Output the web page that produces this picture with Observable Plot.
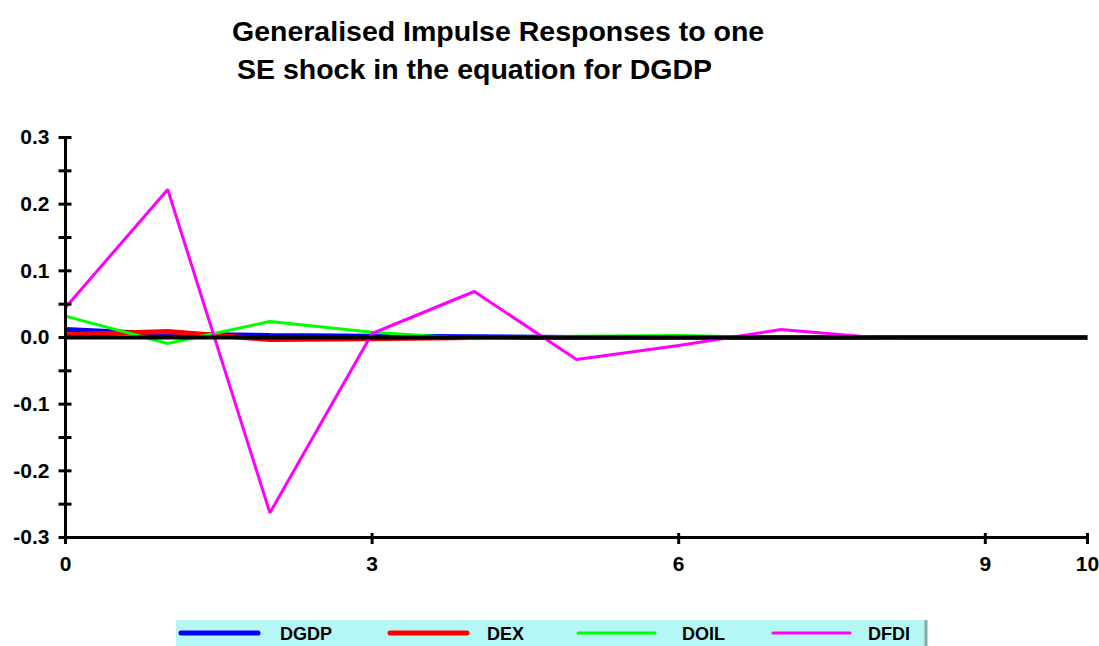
<!DOCTYPE html>
<html>
<head>
<meta charset="utf-8">
<script src="https://cdn.jsdelivr.net/npm/d3@7"></script>
<script src="https://cdn.jsdelivr.net/npm/@observablehq/plot@0.6"></script>
<style>
  html, body { margin: 0; padding: 0; background: #ffffff; }
  #wrap { position: relative; width: 1099px; height: 646px; overflow: hidden; background: #fff;
          font-family: "Liberation Sans", Arial, sans-serif; font-weight: bold; color: #000; }
  .title { position: absolute; font-size: 28.5px; line-height: 32px; white-space: pre; }
  #chart { position: absolute; left: 0; top: 100px; }
  #chart svg text { font-size: 21px; font-weight: bold; }
  #legend { position: absolute; left: 0; top: 0; }
</style>
</head>
<body>
<div id="wrap">
  <div class="title" style="left:232px; top:15px;">Generalised Impulse Responses to one</div>
  <div class="title" style="left:237px; top:53px;">SE shock in the equation for DGDP</div>
  <div id="chart"></div>
  <div id="legend"></div>
</div>
<script>
// ---- data ----
const periods = [0, 1, 2, 3, 4, 5, 6, 7, 8, 9, 10];
const seriesNames = ["DGDP", "DEX", "DOIL", "DFDI"];
const seriesColors = ["#0000ff", "#ff0000", "#00ff00", "#ff00ff"];
const seriesWidths = [5, 5, 3, 3];
const DGDP = [0.012, 0.005, 0.003, 0.002, 0.001, 0.000, 0.000, 0.000, 0.000, 0.000, 0.000];
const DEX  = [0.004, 0.009, -0.003, -0.002, 0.000, 0.000, 0.000, 0.000, 0.000, 0.000, 0.000];
const DOIL = [0.032, -0.009, 0.024, 0.008, -0.002, 0.002, 0.003, 0.000, 0.000, 0.000, 0.000];
const DFDI = [0.045, 0.222, -0.263, 0.006, 0.069, -0.033, -0.012, 0.012, -0.001, 0.000, 0.000];
const seriesValues = [DGDP, DEX, DOIL, DFDI];

const xTickValues = [0, 3, 6, 9, 10];
const xTickLabels = ["0", "3", "6", "9", "10"];
const yTickValues = [0.3, 0.2, 0.1, 0.0, -0.1, -0.2, -0.3];
const yTickLabels = ["0.3", "0.2", "0.1", "0.0", "-0.1", "-0.2", "-0.3"];
const yMinorTicks = [0.3, 0.25, 0.2, 0.15, 0.1, 0.05, 0.0, -0.05, -0.1, -0.15, -0.2, -0.25, -0.3];

const rows = [];
seriesNames.forEach((s, si) => {
  periods.forEach((p, i) => rows.push({ series: s, period: p, value: seriesValues[si][i] }));
});

const lineMarks = seriesNames.map((s, si) =>
  Plot.line(rows.filter(r => r.series === s), {
    x: "period", y: "value", stroke: seriesColors[si], strokeWidth: seriesWidths[si],
    strokeLinejoin: "miter", strokeLinecap: "butt"
  })
);

const chart = Plot.plot({
  width: 1099,
  height: 500,
  marginLeft: 65,
  marginRight: 12,
  marginTop: 37,
  marginBottom: 63,
  x: { domain: [0, 10], label: null },
  y: { domain: [-0.3, 0.3], label: null },
  style: {
    fontFamily: "'Liberation Sans', Arial, sans-serif",
    fontSize: "21px",
    fontWeight: "bold",
    color: "#000",
    background: "transparent",
    overflow: "visible"
  },
  marks: [
    ...lineMarks,
    Plot.ruleX([0], { stroke: "#000", strokeWidth: 3 }),
    Plot.ruleY([-0.3], { stroke: "#000", strokeWidth: 3 }),
    Plot.ruleY([0], { stroke: "#000", strokeWidth: 4 }),
    Plot.axisY({ ticks: yMinorTicks, tickSize: 13, dx: 6.5, tickFormat: () => "", strokeWidth: 3, label: null }),
    Plot.axisY({ ticks: yTickValues, tickSize: 0, tickPadding: 16, tickFormat: (d, i) => yTickLabels[i], label: null }),
    Plot.axisX({ ticks: xTickValues, tickSize: 11, dy: -4, tickFormat: () => "", strokeWidth: 3, label: null }),
    Plot.axisX({ ticks: xTickValues, tickSize: 0, tickPadding: 19, tickFormat: (d, i) => xTickLabels[i], label: null })
  ]
});
document.getElementById("chart").appendChild(chart);

// ---- legend ----
const legendX = [181, 390, 578, 773];
const legendTextX = [280, 487, 682, 868];
const lg = d3.select("#legend").append("svg")
  .attr("width", 1099).attr("height", 646)
  .style("position", "absolute").style("left", "0px").style("top", "0px");
lg.append("rect").attr("x", 176).attr("y", 620).attr("width", 749).attr("height", 30).attr("fill", "#b5f7f7");
lg.append("line").attr("x1", 926).attr("x2", 926).attr("y1", 620).attr("y2", 650)
  .attr("stroke", "#8aa6a6").attr("stroke-width", 3);
seriesNames.forEach((s, i) => {
  lg.append("line").attr("x1", legendX[i]).attr("x2", legendX[i] + 77).attr("y1", 633).attr("y2", 633)
    .attr("stroke", seriesColors[i]).attr("stroke-width", i < 2 ? 5 : 3).attr("stroke-linecap", "round");
  lg.append("text").attr("x", legendTextX[i]).attr("y", 640).text(s)
    .attr("font-family", "'Liberation Sans', Arial, sans-serif").attr("font-weight", "bold")
    .attr("font-size", 18).attr("fill", "#000");
});
</script>
</body>
</html>
